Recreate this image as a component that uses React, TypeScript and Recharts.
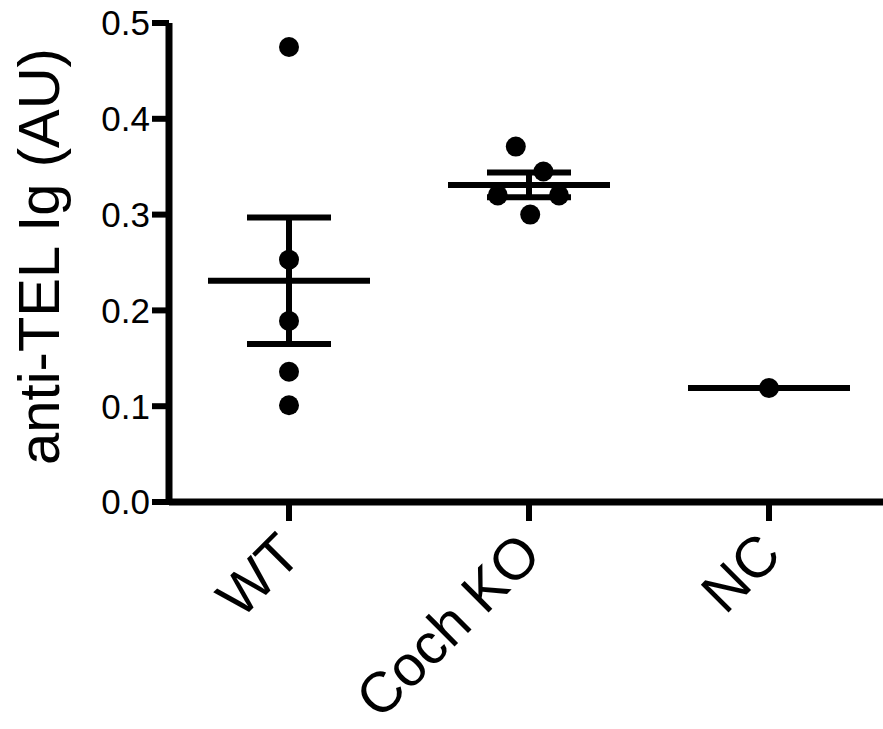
import React from "react";
import {
  ComposedChart,
  Scatter,
  XAxis,
  YAxis,
  ReferenceLine,
} from "recharts";

// groups shown on the x axis
const groups = ["WT", "Coch KO", "NC"];

const wtValues = [0.475, 0.253, 0.189, 0.136, 0.101];
const cochValues = [0.371, 0.345, 0.32, 0.32, 0.3];
const ncValues = [0.119];

// horizontal scatter of the dots inside each group (category units)
const wtJitter = [0, 0, 0, 0, 0];
const cochJitter = [-0.055, 0.06, -0.13, 0.125, 0.005];
const ncJitter = [0];

// mean and SEM per group
const groupMeans = [0.231, 0.331, 0.119];
const groupSem = [0.066, 0.013, 0];

const yTicks = [0, 0.1, 0.2, 0.3, 0.4, 0.5];

const FONT = "'Liberation Sans', Arial, sans-serif";
const MEAN_HALF = 0.3375;
const CAP_HALF = 0.175;

const points = [
  ...wtValues.map((v, i) => ({ x: 1 + wtJitter[i], y: v })),
  ...cochValues.map((v, i) => ({ x: 2 + cochJitter[i], y: v })),
  ...ncValues.map((v, i) => ({ x: 3 + ncJitter[i], y: v })),
];

const Dot = (props: any) => <circle cx={props.cx} cy={props.cy} r={10} fill="#000" />;

const GroupTick = (props: any) => {
  const { x, y, payload } = props;
  return (
    <text
      x={x}
      y={y}
      dy="0.36em"
      textAnchor="end"
      transform={`rotate(-45 ${x} ${y})`}
      fontFamily={FONT}
      fontSize={57}
      fill="#000"
    >
      {groups[payload.value - 1]}
    </text>
  );
};

const YLabel = (props: any) => {
  const vb = props.viewBox;
  const cx = vb.x + 38;
  const cy = vb.y + vb.height / 2 - 6;
  return (
    <text
      x={cx}
      y={cy}
      dy="0.36em"
      textAnchor="middle"
      transform={`rotate(-90 ${cx} ${cy})`}
      fontFamily={FONT}
      fontSize={58}
      fill="#000"
    >
      anti-TEL Ig (AU)
    </text>
  );
};

const lineStyle = { stroke: "#000", strokeWidth: 6 };

export default function App() {
  return (
    <div style={{ width: 883, height: 729, overflow: "hidden", background: "#fff" }}>
      <style>{"body{margin:0}"}</style>
      <ComposedChart width={889} height={729} margin={{ top: 23, right: 0, bottom: 0, left: 0 }}>
        <XAxis
          type="number"
          dataKey="x"
          domain={[0.5, 3.5]}
          ticks={[1, 2, 3]}
          allowDataOverflow
          height={227}
          axisLine={{ stroke: "#000", strokeWidth: 7 }}
          tickLine={{ stroke: "#000", strokeWidth: 6 }}
          tickSize={19}
          tickMargin={22}
          tick={<GroupTick />}
        />
        <YAxis
          type="number"
          dataKey="y"
          domain={[0, 0.5]}
          ticks={yTicks}
          width={169}
          axisLine={{ stroke: "#000", strokeWidth: 7 }}
          tickLine={{ stroke: "#000", strokeWidth: 6 }}
          tickSize={17}
          tickMargin={2}
          tickFormatter={(v: number) => v.toFixed(1)}
          tick={{ fill: "#000", fontSize: 35, fontFamily: FONT }}
          label={<YLabel />}
        />
        {groupMeans.map((m, i) => (
          <ReferenceLine
            key={`mean-${i}`}
            segment={[
              { x: i + 1 - MEAN_HALF, y: m },
              { x: i + 1 + MEAN_HALF, y: m },
            ]}
            {...lineStyle}
          />
        ))}
        {groupSem.map((s, i) =>
          s > 0 ? (
            <ReferenceLine
              key={`sem-${i}`}
              segment={[
                { x: i + 1, y: groupMeans[i] - s },
                { x: i + 1, y: groupMeans[i] + s },
              ]}
              {...lineStyle}
            />
          ) : null
        )}
        {groupSem.map((s, i) =>
          s > 0 ? (
            <ReferenceLine
              key={`capu-${i}`}
              segment={[
                { x: i + 1 - CAP_HALF, y: groupMeans[i] + s },
                { x: i + 1 + CAP_HALF, y: groupMeans[i] + s },
              ]}
              {...lineStyle}
            />
          ) : null
        )}
        {groupSem.map((s, i) =>
          s > 0 ? (
            <ReferenceLine
              key={`capl-${i}`}
              segment={[
                { x: i + 1 - CAP_HALF, y: groupMeans[i] - s },
                { x: i + 1 + CAP_HALF, y: groupMeans[i] - s },
              ]}
              {...lineStyle}
            />
          ) : null
        )}
        <Scatter data={points} dataKey="y" fill="#000" shape={<Dot />} isAnimationActive={false} />
      </ComposedChart>
    </div>
  );
}
